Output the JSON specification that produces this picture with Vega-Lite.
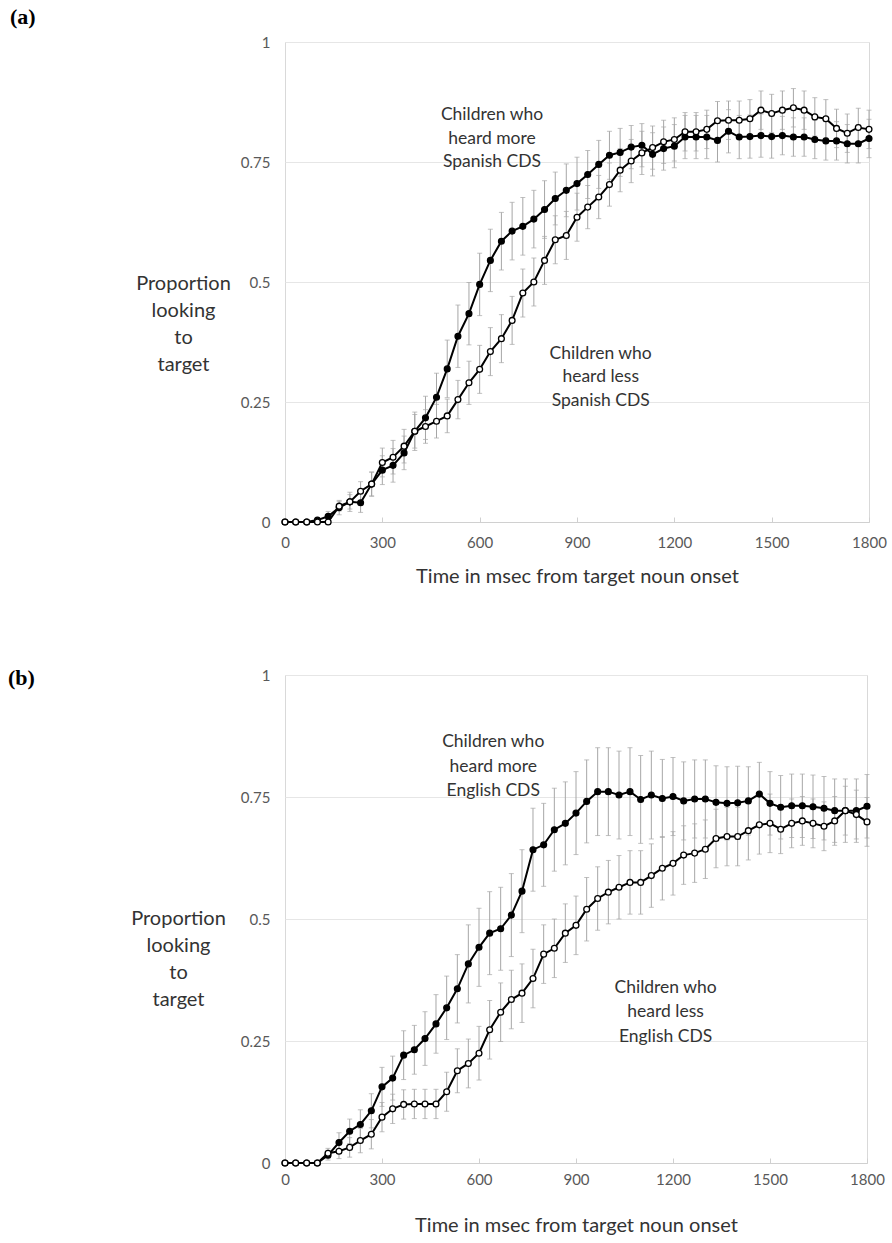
{
  "$schema": "https://vega.github.io/schema/vega-lite/v6.json",
  "background": "white",
  "padding": {"left": 7, "top": 5, "right": 5, "bottom": 5},
  "spacing": 79,
  "config": {
    "font": "Lato",
    "view": {"stroke": "#d9d9d9", "strokeWidth": 1},
    "axis": {"labelFont": "Lato", "titleFont": "Lato", "labelColor": "#595959", "titleColor": "#333333", "labelFontSize": 15, "titleFontSize": 20, "titleFontWeight": "normal", "gridColor": "#e6e6e6", "domainColor": "#d0d0d0", "tickColor": "#d0d0d0"},
    "title": {"font": "Liberation Serif", "fontSize": 22, "fontWeight": "bold", "color": "black", "anchor": "start", "frame": "group"}
  },
  "datasets": {
    "a": [
      {"g":"more","t":0,"p":0,"se":0},{"g":"more","t":33,"p":0,"se":0},{"g":"more","t":67,"p":0,"se":0},{"g":"more","t":100,"p":0.004,"se":0.005},{"g":"more","t":133,"p":0.012,"se":0.01},{"g":"more","t":167,"p":0.03,"se":0.015},{"g":"more","t":200,"p":0.042,"se":0.02},{"g":"more","t":233,"p":0.04,"se":0.02},{"g":"more","t":267,"p":0.079,"se":0.025},{"g":"more","t":300,"p":0.108,"se":0.03},
      {"g":"more","t":333,"p":0.118,"se":0.035},{"g":"more","t":367,"p":0.144,"se":0.035},{"g":"more","t":400,"p":0.189,"se":0.04},{"g":"more","t":433,"p":0.217,"se":0.045},{"g":"more","t":467,"p":0.26,"se":0.05},{"g":"more","t":500,"p":0.319,"se":0.06},{"g":"more","t":533,"p":0.387,"se":0.065},{"g":"more","t":567,"p":0.434,"se":0.065},{"g":"more","t":600,"p":0.495,"se":0.065},
      {"g":"more","t":633,"p":0.545,"se":0.065},{"g":"more","t":667,"p":0.585,"se":0.06},{"g":"more","t":700,"p":0.606,"se":0.06},{"g":"more","t":733,"p":0.616,"se":0.06},{"g":"more","t":767,"p":0.631,"se":0.06},{"g":"more","t":800,"p":0.651,"se":0.06},{"g":"more","t":833,"p":0.674,"se":0.055},{"g":"more","t":867,"p":0.691,"se":0.055},{"g":"more","t":900,"p":0.705,"se":0.055},
      {"g":"more","t":933,"p":0.724,"se":0.05},{"g":"more","t":967,"p":0.745,"se":0.05},{"g":"more","t":1000,"p":0.764,"se":0.05},{"g":"more","t":1033,"p":0.77,"se":0.05},{"g":"more","t":1067,"p":0.781,"se":0.045},{"g":"more","t":1100,"p":0.785,"se":0.045},{"g":"more","t":1133,"p":0.766,"se":0.045},{"g":"more","t":1167,"p":0.778,"se":0.045},{"g":"more","t":1200,"p":0.783,"se":0.045},
      {"g":"more","t":1233,"p":0.802,"se":0.045},{"g":"more","t":1267,"p":0.802,"se":0.045},{"g":"more","t":1300,"p":0.802,"se":0.045},{"g":"more","t":1333,"p":0.795,"se":0.045},{"g":"more","t":1367,"p":0.814,"se":0.045},{"g":"more","t":1400,"p":0.802,"se":0.045},{"g":"more","t":1433,"p":0.803,"se":0.045},{"g":"more","t":1467,"p":0.805,"se":0.045},{"g":"more","t":1500,"p":0.803,"se":0.045},
      {"g":"more","t":1533,"p":0.805,"se":0.04},{"g":"more","t":1567,"p":0.802,"se":0.04},{"g":"more","t":1600,"p":0.802,"se":0.04},{"g":"more","t":1633,"p":0.797,"se":0.04},{"g":"more","t":1667,"p":0.794,"se":0.04},{"g":"more","t":1700,"p":0.794,"se":0.04},{"g":"more","t":1733,"p":0.788,"se":0.04},{"g":"more","t":1767,"p":0.788,"se":0.04},{"g":"more","t":1800,"p":0.799,"se":0.04},
      {"g":"less","t":0,"p":0,"se":0},{"g":"less","t":33,"p":0,"se":0},{"g":"less","t":67,"p":0,"se":0},{"g":"less","t":100,"p":0,"se":0},{"g":"less","t":133,"p":0,"se":0},{"g":"less","t":167,"p":0.033,"se":0.01},{"g":"less","t":200,"p":0.042,"se":0.015},{"g":"less","t":233,"p":0.064,"se":0.02},{"g":"less","t":267,"p":0.079,"se":0.025},{"g":"less","t":300,"p":0.124,"se":0.03},
      {"g":"less","t":333,"p":0.135,"se":0.035},{"g":"less","t":367,"p":0.158,"se":0.035},{"g":"less","t":400,"p":0.189,"se":0.035},{"g":"less","t":433,"p":0.199,"se":0.035},{"g":"less","t":467,"p":0.21,"se":0.035},{"g":"less","t":500,"p":0.221,"se":0.035},{"g":"less","t":533,"p":0.255,"se":0.04},{"g":"less","t":567,"p":0.29,"se":0.045},{"g":"less","t":600,"p":0.318,"se":0.05},
      {"g":"less","t":633,"p":0.355,"se":0.05},{"g":"less","t":667,"p":0.382,"se":0.05},{"g":"less","t":700,"p":0.42,"se":0.05},{"g":"less","t":733,"p":0.477,"se":0.05},{"g":"less","t":767,"p":0.5,"se":0.05},{"g":"less","t":800,"p":0.545,"se":0.05},{"g":"less","t":833,"p":0.588,"se":0.05},{"g":"less","t":867,"p":0.597,"se":0.05},{"g":"less","t":900,"p":0.635,"se":0.05},
      {"g":"less","t":933,"p":0.656,"se":0.045},{"g":"less","t":967,"p":0.677,"se":0.045},{"g":"less","t":1000,"p":0.703,"se":0.045},{"g":"less","t":1033,"p":0.733,"se":0.045},{"g":"less","t":1067,"p":0.752,"se":0.045},{"g":"less","t":1100,"p":0.769,"se":0.045},{"g":"less","t":1133,"p":0.78,"se":0.045},{"g":"less","t":1167,"p":0.792,"se":0.045},{"g":"less","t":1200,"p":0.797,"se":0.045},
      {"g":"less","t":1233,"p":0.813,"se":0.04},{"g":"less","t":1267,"p":0.813,"se":0.04},{"g":"less","t":1300,"p":0.818,"se":0.04},{"g":"less","t":1333,"p":0.836,"se":0.04},{"g":"less","t":1367,"p":0.837,"se":0.04},{"g":"less","t":1400,"p":0.837,"se":0.04},{"g":"less","t":1433,"p":0.84,"se":0.04},{"g":"less","t":1467,"p":0.858,"se":0.04},{"g":"less","t":1500,"p":0.851,"se":0.04},
      {"g":"less","t":1533,"p":0.858,"se":0.04},{"g":"less","t":1567,"p":0.863,"se":0.04},{"g":"less","t":1600,"p":0.858,"se":0.04},{"g":"less","t":1633,"p":0.844,"se":0.04},{"g":"less","t":1667,"p":0.84,"se":0.04},{"g":"less","t":1700,"p":0.82,"se":0.04},{"g":"less","t":1733,"p":0.81,"se":0.04},{"g":"less","t":1767,"p":0.822,"se":0.04},{"g":"less","t":1800,"p":0.818,"se":0.04}
    ],
    "b": [
      {"g":"more","t":0,"p":0,"se":0},{"g":"more","t":33,"p":0,"se":0},{"g":"more","t":67,"p":0,"se":0},{"g":"more","t":100,"p":0,"se":0},{"g":"more","t":133,"p":0.016,"se":0.01},{"g":"more","t":167,"p":0.042,"se":0.02},{"g":"more","t":200,"p":0.065,"se":0.025},{"g":"more","t":233,"p":0.079,"se":0.03},{"g":"more","t":267,"p":0.107,"se":0.035},{"g":"more","t":300,"p":0.156,"se":0.04},
      {"g":"more","t":333,"p":0.174,"se":0.045},{"g":"more","t":367,"p":0.221,"se":0.05},{"g":"more","t":400,"p":0.232,"se":0.05},{"g":"more","t":433,"p":0.255,"se":0.055},{"g":"more","t":467,"p":0.285,"se":0.06},{"g":"more","t":500,"p":0.318,"se":0.065},{"g":"more","t":533,"p":0.357,"se":0.07},{"g":"more","t":567,"p":0.408,"se":0.08},{"g":"more","t":600,"p":0.442,"se":0.08},
      {"g":"more","t":633,"p":0.471,"se":0.085},{"g":"more","t":667,"p":0.48,"se":0.085},{"g":"more","t":700,"p":0.508,"se":0.085},{"g":"more","t":733,"p":0.557,"se":0.085},{"g":"more","t":767,"p":0.642,"se":0.085},{"g":"more","t":800,"p":0.652,"se":0.085},{"g":"more","t":833,"p":0.683,"se":0.085},{"g":"more","t":867,"p":0.696,"se":0.085},{"g":"more","t":900,"p":0.717,"se":0.085},
      {"g":"more","t":933,"p":0.741,"se":0.085},{"g":"more","t":967,"p":0.761,"se":0.09},{"g":"more","t":1000,"p":0.761,"se":0.09},{"g":"more","t":1033,"p":0.754,"se":0.09},{"g":"more","t":1067,"p":0.761,"se":0.09},{"g":"more","t":1100,"p":0.745,"se":0.09},{"g":"more","t":1133,"p":0.754,"se":0.09},{"g":"more","t":1167,"p":0.747,"se":0.08},{"g":"more","t":1200,"p":0.751,"se":0.08},
      {"g":"more","t":1233,"p":0.742,"se":0.08},{"g":"more","t":1267,"p":0.746,"se":0.08},{"g":"more","t":1300,"p":0.746,"se":0.08},{"g":"more","t":1333,"p":0.739,"se":0.075},{"g":"more","t":1367,"p":0.737,"se":0.075},{"g":"more","t":1400,"p":0.738,"se":0.075},{"g":"more","t":1433,"p":0.742,"se":0.07},{"g":"more","t":1467,"p":0.756,"se":0.065},{"g":"more","t":1500,"p":0.737,"se":0.065},
      {"g":"more","t":1533,"p":0.729,"se":0.065},{"g":"more","t":1567,"p":0.732,"se":0.065},{"g":"more","t":1600,"p":0.732,"se":0.065},{"g":"more","t":1633,"p":0.73,"se":0.065},{"g":"more","t":1667,"p":0.727,"se":0.065},{"g":"more","t":1700,"p":0.722,"se":0.065},{"g":"more","t":1733,"p":0.722,"se":0.065},{"g":"more","t":1767,"p":0.722,"se":0.065},{"g":"more","t":1800,"p":0.731,"se":0.065},
      {"g":"less","t":0,"p":0,"se":0},{"g":"less","t":33,"p":0,"se":0},{"g":"less","t":67,"p":0,"se":0},{"g":"less","t":100,"p":0,"se":0},{"g":"less","t":133,"p":0.02,"se":0.01},{"g":"less","t":167,"p":0.024,"se":0.015},{"g":"less","t":200,"p":0.032,"se":0.02},{"g":"less","t":233,"p":0.046,"se":0.025},{"g":"less","t":267,"p":0.059,"se":0.03},{"g":"less","t":300,"p":0.094,"se":0.03},
      {"g":"less","t":333,"p":0.111,"se":0.03},{"g":"less","t":367,"p":0.12,"se":0.03},{"g":"less","t":400,"p":0.121,"se":0.03},{"g":"less","t":433,"p":0.121,"se":0.03},{"g":"less","t":467,"p":0.121,"se":0.03},{"g":"less","t":500,"p":0.146,"se":0.04},{"g":"less","t":533,"p":0.189,"se":0.045},{"g":"less","t":567,"p":0.204,"se":0.05},{"g":"less","t":600,"p":0.225,"se":0.055},
      {"g":"less","t":633,"p":0.273,"se":0.06},{"g":"less","t":667,"p":0.309,"se":0.06},{"g":"less","t":700,"p":0.335,"se":0.06},{"g":"less","t":733,"p":0.348,"se":0.06},{"g":"less","t":767,"p":0.378,"se":0.06},{"g":"less","t":800,"p":0.428,"se":0.06},{"g":"less","t":833,"p":0.44,"se":0.06},{"g":"less","t":867,"p":0.471,"se":0.06},{"g":"less","t":900,"p":0.487,"se":0.06},
      {"g":"less","t":933,"p":0.52,"se":0.065},{"g":"less","t":967,"p":0.542,"se":0.065},{"g":"less","t":1000,"p":0.555,"se":0.065},{"g":"less","t":1033,"p":0.565,"se":0.065},{"g":"less","t":1067,"p":0.575,"se":0.065},{"g":"less","t":1100,"p":0.575,"se":0.065},{"g":"less","t":1133,"p":0.589,"se":0.065},{"g":"less","t":1167,"p":0.604,"se":0.065},{"g":"less","t":1200,"p":0.614,"se":0.065},
      {"g":"less","t":1233,"p":0.631,"se":0.06},{"g":"less","t":1267,"p":0.635,"se":0.06},{"g":"less","t":1300,"p":0.643,"se":0.06},{"g":"less","t":1333,"p":0.665,"se":0.06},{"g":"less","t":1367,"p":0.669,"se":0.06},{"g":"less","t":1400,"p":0.669,"se":0.06},{"g":"less","t":1433,"p":0.681,"se":0.06},{"g":"less","t":1467,"p":0.693,"se":0.06},{"g":"less","t":1500,"p":0.696,"se":0.06},
      {"g":"less","t":1533,"p":0.684,"se":0.05},{"g":"less","t":1567,"p":0.696,"se":0.05},{"g":"less","t":1600,"p":0.701,"se":0.05},{"g":"less","t":1633,"p":0.696,"se":0.05},{"g":"less","t":1667,"p":0.69,"se":0.05},{"g":"less","t":1700,"p":0.701,"se":0.05},{"g":"less","t":1733,"p":0.722,"se":0.05},{"g":"less","t":1767,"p":0.714,"se":0.05},{"g":"less","t":1800,"p":0.699,"se":0.05}
    ]
  },
  "vconcat": [
    {
      "width": 584,
      "height": 480,
      "title": {"text": "(a)", "dx": -275, "offset": 6},
      "data": {"name": "a"},
      "encoding": {
        "x": {"field": "t", "type": "quantitative", "scale": {"domain": [0, 1800], "nice": false},
          "axis": {"values": [0, 300, 600, 900, 1200, 1500, 1800], "format": "d", "labelFlush": false, "grid": false, "tickSize": -5, "labelPadding": 18, "titlePadding": 16, "title": "Time in msec from target noun onset"}},
        "y": {"field": "p", "type": "quantitative", "scale": {"domain": [0, 1], "nice": false},
          "axis": {"values": [0, 0.25, 0.5, 0.75, 1], "labelExpr": "datum.value + ''", "ticks": false, "domain": false, "grid": true, "labelPadding": 15,
            "title": ["Proportion", "looking", "to", "target"], "titleAngle": 0, "titleAlign": "center", "titleBaseline": "middle", "titleX": -102, "titleY": 241, "titleLineHeight": 27}}
      },
      "layer": [
        {"mark": {"type": "errorbar", "color": "#a6a6a6", "thickness": 1, "ticks": {"size": 5, "color": "#a6a6a6"}},
          "encoding": {"yError": {"field": "se"}, "detail": {"field": "g"}}},
        {"mark": {"type": "line", "color": "black", "strokeWidth": 2}, "encoding": {"detail": {"field": "g"}}},
        {"mark": {"type": "point", "filled": true, "size": 34, "stroke": "black", "strokeWidth": 1.3, "opacity": 1},
          "encoding": {"fill": {"field": "g", "type": "nominal", "scale": {"domain": ["more", "less"], "range": ["black", "white"]}, "legend": null}}},
        {"data": {"values": [
            {"t": 638, "p": 0.847, "label": "Children who\nheard more\nSpanish CDS"},
            {"t": 973, "p": 0.351, "label": "Children who\nheard less\nSpanish CDS"}]},
          "mark": {"type": "text", "font": "Lato", "fontSize": 17.5, "lineBreak": "\n", "lineHeight": 23.5, "align": "center", "baseline": "middle", "color": "#333333"},
          "encoding": {"text": {"field": "label"}}}
      ]
    },
    {
      "width": 582,
      "height": 488,
      "title": {"text": "(b)", "dx": -277, "offset": 0, "dy": 22},
      "data": {"name": "b"},
      "encoding": {
        "x": {"field": "t", "type": "quantitative", "scale": {"domain": [0, 1800], "nice": false},
          "axis": {"values": [0, 300, 600, 900, 1200, 1500, 1800], "format": "d", "labelFlush": false, "grid": false, "tickSize": -5, "labelPadding": 14, "titlePadding": 28, "title": "Time in msec from target noun onset"}},
        "y": {"field": "p", "type": "quantitative", "scale": {"domain": [0, 1], "nice": false},
          "axis": {"values": [0, 0.25, 0.5, 0.75, 1], "labelExpr": "datum.value + ''", "ticks": false, "domain": false, "grid": true, "labelPadding": 15,
            "title": ["Proportion", "looking", "to", "target"], "titleAngle": 0, "titleAlign": "center", "titleBaseline": "middle", "titleX": -107, "titleY": 243, "titleLineHeight": 27}}
      },
      "layer": [
        {"mark": {"type": "errorbar", "color": "#a6a6a6", "thickness": 1, "ticks": {"size": 5, "color": "#a6a6a6"}},
          "encoding": {"yError": {"field": "se"}, "detail": {"field": "g"}}},
        {"mark": {"type": "line", "color": "black", "strokeWidth": 2}, "encoding": {"detail": {"field": "g"}}},
        {"mark": {"type": "point", "filled": true, "size": 34, "stroke": "black", "strokeWidth": 1.3, "opacity": 1},
          "encoding": {"fill": {"field": "g", "type": "nominal", "scale": {"domain": ["more", "less"], "range": ["black", "white"]}, "legend": null}}},
        {"data": {"values": [
            {"t": 644, "p": 0.862, "label": "Children who\nheard more\nEnglish CDS"},
            {"t": 1177, "p": 0.359, "label": "Children who\nheard less\nEnglish CDS"}]},
          "mark": {"type": "text", "font": "Lato", "fontSize": 17.5, "lineBreak": "\n", "lineHeight": 24.5, "align": "center", "baseline": "middle", "color": "#333333"},
          "encoding": {"text": {"field": "label"}}}
      ]
    }
  ]
}
